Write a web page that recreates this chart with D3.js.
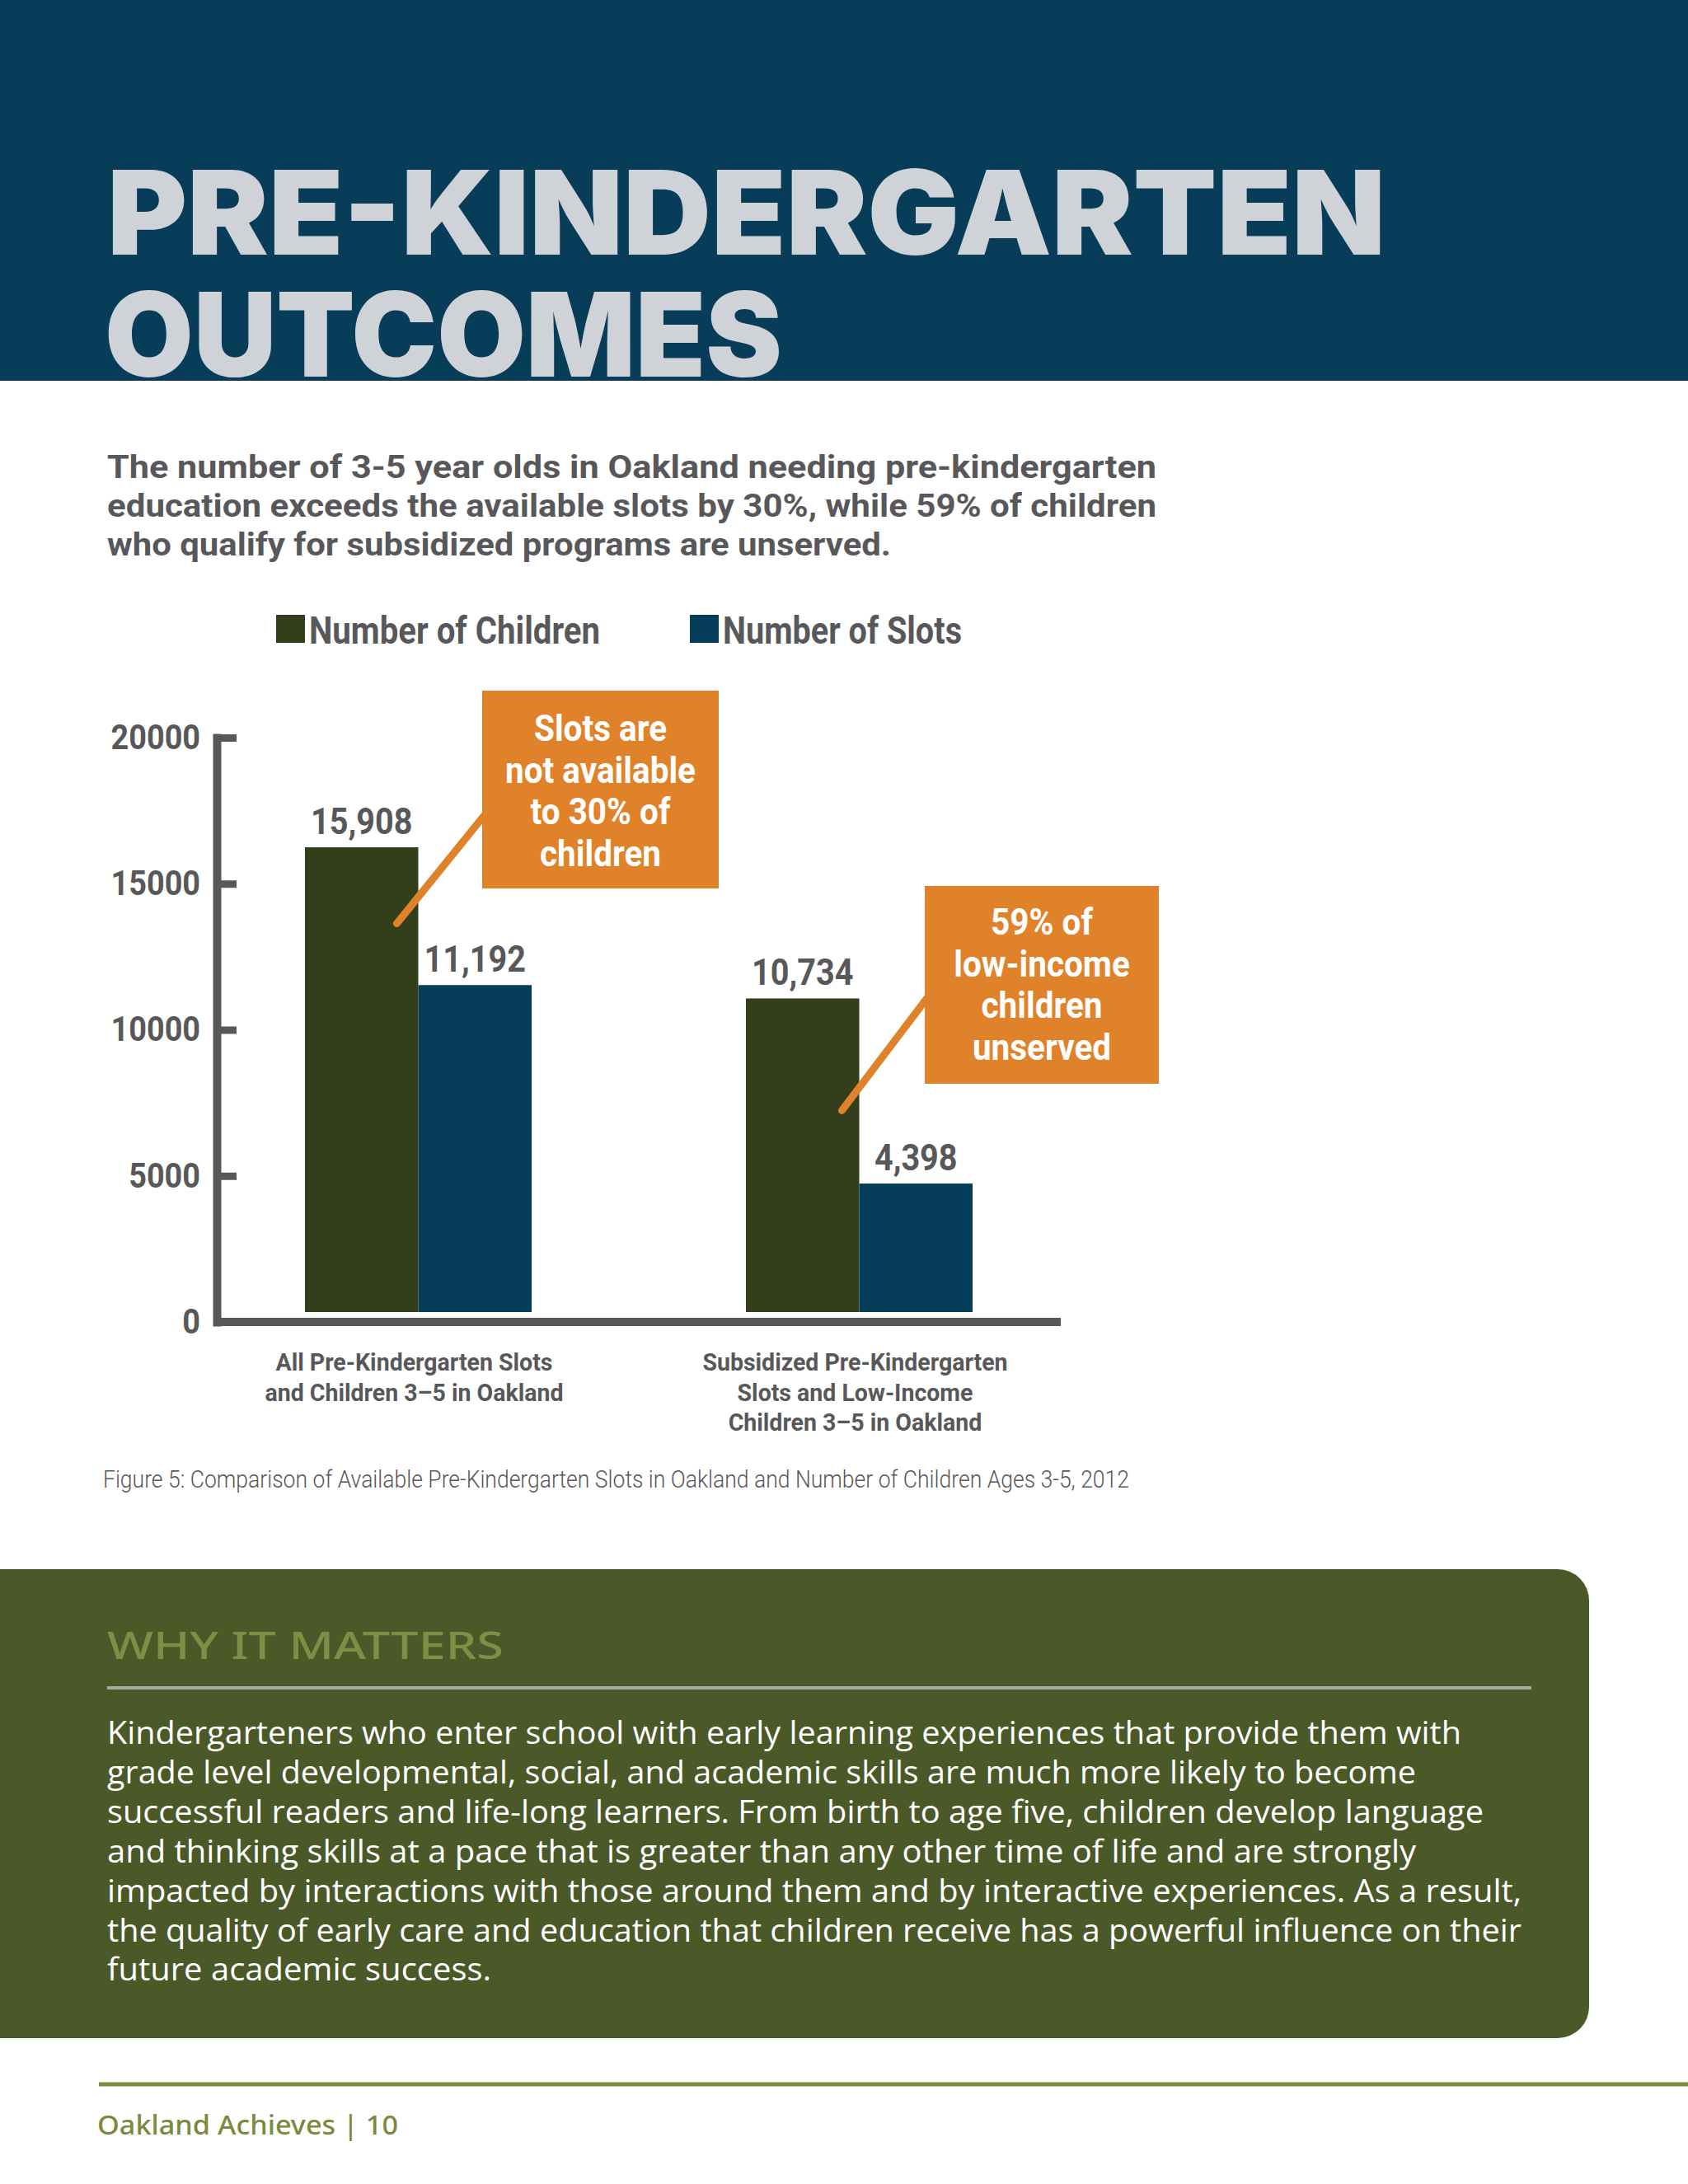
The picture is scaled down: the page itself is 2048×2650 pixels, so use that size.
<!DOCTYPE html>
<html>
<head>
<meta charset="utf-8">
<script src="https://cdnjs.cloudflare.com/ajax/libs/d3/7.8.5/d3.min.js"></script>
<style>
  html, body { margin: 0; padding: 0; background: #fff; }
  svg { display: block; }
</style>
</head>
<body>
<svg id="page"></svg>
<script>
const W = 2048;
const H = 2650;

// -----------------------------
// DATA
// -----------------------------
const categories = [
  ["All Pre-Kindergarten Slots", "and Children 3–5 in Oakland"],
  ["Subsidized Pre-Kindergarten", "Slots and Low-Income", "Children 3–5 in Oakland"]
];
const seriesNames = ["Number of Children", "Number of Slots"];
const childrenValues = [15908, 10734];
const slotValues = [11192, 4398];
const yTicks = [0, 5000, 10000, 15000, 20000];

const calloutTexts = [
  ["Slots are", "not available", "to 30% of", "children"],
  ["59% of", "low-income", "children", "unserved"]
];
// value on the "children" bar where each callout pointer ends
const calloutAnchors = [13300, 6900];

const titleLines = ["PRE-KINDERGARTEN", "OUTCOMES"];
const introLines = [
  "The number of 3-5 year olds in Oakland needing pre-kindergarten",
  "education exceeds the available slots by 30%, while 59% of children",
  "who qualify for subsidized programs are unserved."
];
const caption = "Figure 5: Comparison of Available Pre-Kindergarten Slots in Oakland and Number of Children Ages 3-5, 2012";
const boxHeading = "WHY IT MATTERS";
const boxLines = [
  "Kindergarteners who enter school with early learning experiences that provide them with",
  "grade level developmental, social, and academic skills are much more likely to become",
  "successful readers and life-long learners. From birth to age five, children develop language",
  "and thinking skills at a pace that is greater than any other time of life and are strongly",
  "impacted by interactions with those around them and by interactive experiences. As a result,",
  "the quality of early care and education that children receive has a powerful influence on their",
  "future academic success."
];
const footerText = "Oakland Achieves | 10";

// -----------------------------
// STYLE
// -----------------------------
const C = {
  navy: "#073d59",
  title: "#cfd2d6",
  gray: "#58585a",
  children: "#333f1b",
  slots: "#063d58",
  orange: "#e0822a",
  olive: "#4b5827",
  heading: "#7e8e45",
  rule: "#a7aaa6",
  footer: "#7b8a3e"
};
const COND = "Roboto, 'Liberation Sans', sans-serif";
const BODY = "'Open Sans', 'Noto Sans', sans-serif";

const svg = d3.select("#page").attr("width", W).attr("height", H);

function fit(sel, w) {
  sel.attr("textLength", w).attr("lengthAdjust", "spacingAndGlyphs");
}
function condense(sel, k) {
  sel.each(function () {
    const len = this.getComputedTextLength();
    d3.select(this).attr("textLength", len * k).attr("lengthAdjust", "spacingAndGlyphs");
  });
}

// one <text> holding several lines as tspans, each stretched to its width
function block(lines, xs, y0, step, widths) {
  const t = svg.append("text");
  t.selectAll("tspan")
    .data(lines)
    .join("tspan")
    .attr("x", (d, i) => Array.isArray(xs) ? xs[i] : xs)
    .attr("y", (d, i) => Array.isArray(y0) ? y0[i] : y0 + i * step)
    .text(d => d)
    .each(function (d, i) {
      if (widths) d3.select(this).call(fit, widths[i]);
    });
  return t;
}

// -----------------------------
// HEADER
// -----------------------------
svg.append("rect")
  .attr("x", 0).attr("y", 0).attr("width", W).attr("height", 462)
  .attr("fill", C.navy);

block(titleLines, [130, 127], [309, 457], 0, [1551, 822])
  .attr("font-family", "Inter, Roboto, sans-serif")
  .attr("font-weight", 900)
  .attr("font-size", 142)
  .attr("fill", C.title);

block(introLines, 130, 580, 47, [1273, 1273, 951])
  .attr("font-family", COND)
  .attr("font-weight", 700)
  .attr("font-size", 39)
  .attr("fill", C.gray);

// -----------------------------
// LEGEND
// -----------------------------
const legendX = [335, 837];
const legendW = [353, 290];
const legend = svg.append("g")
  .selectAll("g")
  .data(seriesNames)
  .join("g")
  .attr("transform", (d, i) => `translate(${legendX[i]}, 746)`);

legend.append("rect")
  .attr("width", 35).attr("height", 34)
  .attr("fill", (d, i) => i === 0 ? C.children : C.slots);

legend.append("text")
  .attr("x", 40).attr("y", 35)
  .attr("font-family", COND)
  .attr("font-weight", 700)
  .attr("font-size", 47)
  .attr("fill", C.gray)
  .text(d => d)
  .each(function (d, i) { d3.select(this).call(fit, legendW[i]); });

// -----------------------------
// SCALES
// -----------------------------
const axisX = 263;
const x = d3.scaleBand()
  .domain(d3.range(categories.length))
  .range([axisX, 1287])
  .paddingInner(0.486)
  .paddingOuter(0.2);

const xs = d3.scaleBand()
  .domain([0, 1])
  .range([0, x.bandwidth()]);

const y = d3.scaleLinear().domain([0, 20000]).range([1604, 895]);
// bars sit slightly above the drawn baseline
const barGap = 12;
const yBar = y.copy().range([1604 - barGap, 895 - barGap]);

// -----------------------------
// BARS
// -----------------------------
const groups = categories.map((c, i) => ({
  i,
  values: [childrenValues[i], slotValues[i]]
}));

const bars = svg.append("g")
  .selectAll("g")
  .data(groups)
  .join("g")
  .attr("transform", d => `translate(${x(d.i)}, 0)`);

bars.selectAll("rect")
  .data(d => d.values)
  .join("rect")
  .attr("x", (d, j) => xs(j))
  .attr("y", d => yBar(d))
  .attr("width", xs.bandwidth())
  .attr("height", d => yBar(0) - yBar(d))
  .attr("fill", (d, j) => j === 0 ? C.children : C.slots);

bars.selectAll("text.val")
  .data(d => d.values)
  .join("text")
  .attr("class", "val")
  .attr("x", (d, j) => xs(j) + xs.bandwidth() / 2)
  .attr("y", d => yBar(d) - 16)
  .attr("text-anchor", "middle")
  .attr("font-family", COND)
  .attr("font-weight", 700)
  .attr("font-size", 44)
  .attr("fill", C.gray)
  .text(d => d3.format(",")(d))
  .call(condense, 0.9);

// -----------------------------
// AXES
// -----------------------------
const yAxis = svg.append("g")
  .attr("transform", `translate(${axisX}, 0)`)
  .call(d3.axisLeft(y).tickValues(yTicks).tickFormat(d3.format("d"))
    .tickSizeInner(-24).tickSizeOuter(0).tickPadding(20));

yAxis.select(".domain")
  .attr("stroke", C.gray)
  .attr("stroke-width", 10)
  .attr("stroke-linecap", "square");
yAxis.selectAll(".tick line")
  .attr("stroke", C.gray)
  .attr("stroke-width", 9);
yAxis.selectAll(".tick text")
  .attr("font-family", COND)
  .attr("font-weight", 700)
  .attr("font-size", 42)
  .attr("fill", C.gray)
  .call(condense, 0.9);

svg.append("line")
  .attr("x1", axisX).attr("x2", x.range()[1])
  .attr("y1", y(0)).attr("y2", y(0))
  .attr("stroke", C.gray)
  .attr("stroke-width", 10);

// category labels
const catLabels = svg.append("g")
  .selectAll("text")
  .data(categories)
  .join("text")
  .attr("x", (d, i) => x(i) + x.bandwidth() / 2 - 5)
  .attr("y", 1663)
  .attr("text-anchor", "middle")
  .attr("font-family", COND)
  .attr("font-weight", 700)
  .attr("font-size", 30)
  .attr("fill", C.gray);

catLabels.selectAll("tspan")
  .data(d => d)
  .join("tspan")
  .attr("x", function () { return d3.select(this.parentNode).attr("x"); })
  .attr("dy", (d, j) => j === 0 ? 0 : 36.5)
  .text(d => d);
catLabels.selectAll("tspan").call(condense, 0.95);

// -----------------------------
// CALLOUTS
// -----------------------------
const boxes = [
  { x: 585, y: 838, w: 287, h: 240, textY: 899 },
  { x: 1122, y: 1075, w: 284, h: 240, textY: 1134 }
];
const pointerOffset = [26, 21];
const pointerTop = [990, 1212];

calloutTexts.forEach((lines, i) => {
  const b = boxes[i];
  const bx = x(i) + xs(0) + xs.bandwidth() - pointerOffset[i];

  svg.append("line")
    .attr("x1", bx).attr("y1", yBar(calloutAnchors[i]))
    .attr("x2", b.x + 2).attr("y2", pointerTop[i])
    .attr("stroke", C.orange)
    .attr("stroke-width", 9)
    .attr("stroke-linecap", "round");

  svg.append("rect")
    .attr("x", b.x).attr("y", b.y).attr("width", b.w).attr("height", b.h)
    .attr("fill", C.orange);

  const t = svg.append("text")
    .attr("text-anchor", "middle")
    .attr("font-family", COND)
    .attr("font-weight", 700)
    .attr("font-size", 44)
    .attr("fill", "#fff");

  t.selectAll("tspan")
    .data(lines)
    .join("tspan")
    .attr("x", b.x + b.w / 2)
    .attr("y", (d, j) => b.textY + j * 50.5)
    .text(d => d)
    .call(condense, 0.92);
});

// caption
svg.append("text")
  .attr("x", 125).attr("y", 1805)
  .attr("font-family", COND)
  .attr("font-weight", 300)
  .attr("font-size", 29)
  .attr("fill", C.gray)
  .text(caption)
  .call(fit, 1245);

// -----------------------------
// WHY IT MATTERS BOX
// -----------------------------
const bx0 = 0, by0 = 1904, bx1 = 1928, by1 = 2473, br = 38;
svg.append("path")
  .attr("d", `M${bx0},${by0} H${bx1 - br} A${br},${br} 0 0 1 ${bx1},${by0 + br}
    V${by1 - br} A${br},${br} 0 0 1 ${bx1 - br},${by1} H${bx0} Z`)
  .attr("fill", C.olive);

svg.append("text")
  .attr("x", 130).attr("y", 2013)
  .attr("font-family", "'Noto Sans', sans-serif")
  .attr("font-weight", 500)
  .attr("font-size", 46)
  .attr("fill", C.heading)
  .text(boxHeading)
  .call(fit, 481);

svg.append("line")
  .attr("x1", 130).attr("x2", 1858)
  .attr("y1", 2048).attr("y2", 2048)
  .attr("stroke", C.rule)
  .attr("stroke-width", 4);

block(boxLines, 130, 2116, 47.9, [1643, 1588, 1670, 1588, 1716, 1716, 466])
  .attr("font-family", BODY)
  .attr("font-size", 38)
  .attr("fill", "#fff");

// -----------------------------
// FOOTER
// -----------------------------
svg.append("line")
  .attr("x1", 120).attr("x2", W)
  .attr("y1", 2529).attr("y2", 2529)
  .attr("stroke", C.footer)
  .attr("stroke-width", 5);

svg.append("text")
  .attr("x", 118).attr("y", 2590)
  .attr("font-family", "'Noto Sans', sans-serif")
  .attr("font-weight", 500)
  .attr("font-size", 32)
  .attr("fill", C.footer)
  .text(footerText)
  .call(fit, 365);
</script>
</body>
</html>
